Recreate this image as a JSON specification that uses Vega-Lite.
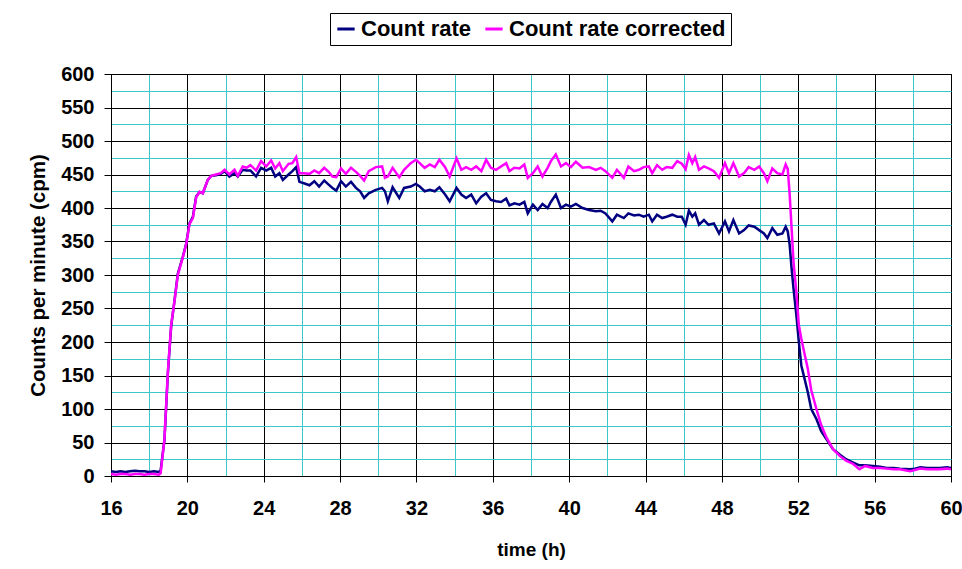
{
  "$schema": "https://vega.github.io/schema/vega-lite/v6.json",
  "autosize": {"type": "none"},
  "width": 840,
  "height": 402,
  "padding": {"left": 111, "top": 74, "right": 11, "bottom": 93},
  "background": "white",
  "config": {"view": {"stroke": "black", "strokeWidth": 1}, "font": "Liberation Sans"},
  "data": {"values": [
    {"t":16.0,"Count rate":7,"Count rate corrected":3},
    {"t":16.25,"Count rate":6,"Count rate corrected":2},
    {"t":16.5,"Count rate":7,"Count rate corrected":3},
    {"t":16.75,"Count rate":6,"Count rate corrected":3},
    {"t":17.0,"Count rate":7,"Count rate corrected":2},
    {"t":17.25,"Count rate":8,"Count rate corrected":3},
    {"t":17.5,"Count rate":7,"Count rate corrected":3},
    {"t":17.75,"Count rate":7,"Count rate corrected":2},
    {"t":18.0,"Count rate":6,"Count rate corrected":3},
    {"t":18.25,"Count rate":7,"Count rate corrected":3},
    {"t":18.5,"Count rate":6,"Count rate corrected":2},
    {"t":18.6,"Count rate":8,"Count rate corrected":4},
    {"t":18.8,"Count rate":54,"Count rate corrected":55},
    {"t":18.98,"Count rate":154,"Count rate corrected":156},
    {"t":19.15,"Count rate":223,"Count rate corrected":225},
    {"t":19.33,"Count rate":263,"Count rate corrected":262},
    {"t":19.5,"Count rate":302,"Count rate corrected":300},
    {"t":19.76,"Count rate":327,"Count rate corrected":326},
    {"t":19.94,"Count rate":347,"Count rate corrected":346},
    {"t":20.11,"Count rate":377,"Count rate corrected":376},
    {"t":20.29,"Count rate":387,"Count rate corrected":385},
    {"t":20.46,"Count rate":417,"Count rate corrected":416},
    {"t":20.64,"Count rate":424,"Count rate corrected":424},
    {"t":20.81,"Count rate":422,"Count rate corrected":422},
    {"t":21.07,"Count rate":442,"Count rate corrected":442},
    {"t":21.25,"Count rate":448,"Count rate corrected":448},
    {"t":21.5,"Count rate":449,"Count rate corrected":450},
    {"t":21.75,"Count rate":451,"Count rate corrected":452},
    {"t":21.95,"Count rate":455,"Count rate corrected":457},
    {"t":22.2,"Count rate":447,"Count rate corrected":450},
    {"t":22.47,"Count rate":452,"Count rate corrected":457},
    {"t":22.64,"Count rate":447,"Count rate corrected":448},
    {"t":22.9,"Count rate":457,"Count rate corrected":462},
    {"t":23.1,"Count rate":456,"Count rate corrected":460},
    {"t":23.3,"Count rate":456,"Count rate corrected":464},
    {"t":23.6,"Count rate":447,"Count rate corrected":456},
    {"t":23.86,"Count rate":460,"Count rate corrected":470},
    {"t":24.13,"Count rate":456,"Count rate corrected":462},
    {"t":24.39,"Count rate":460,"Count rate corrected":471},
    {"t":24.6,"Count rate":447,"Count rate corrected":459},
    {"t":24.82,"Count rate":452,"Count rate corrected":467},
    {"t":25.0,"Count rate":442,"Count rate corrected":455},
    {"t":25.3,"Count rate":450,"Count rate corrected":466},
    {"t":25.5,"Count rate":455,"Count rate corrected":467},
    {"t":25.7,"Count rate":461,"Count rate corrected":476},
    {"t":25.87,"Count rate":439,"Count rate corrected":452},
    {"t":26.1,"Count rate":437,"Count rate corrected":452},
    {"t":26.4,"Count rate":434,"Count rate corrected":451},
    {"t":26.65,"Count rate":440,"Count rate corrected":456},
    {"t":26.9,"Count rate":432,"Count rate corrected":452},
    {"t":27.17,"Count rate":441,"Count rate corrected":460},
    {"t":27.4,"Count rate":435,"Count rate corrected":454},
    {"t":27.6,"Count rate":430,"Count rate corrected":447},
    {"t":27.8,"Count rate":426,"Count rate corrected":446},
    {"t":28.05,"Count rate":440,"Count rate corrected":459},
    {"t":28.3,"Count rate":432,"Count rate corrected":451},
    {"t":28.57,"Count rate":439,"Count rate corrected":460},
    {"t":28.83,"Count rate":430,"Count rate corrected":454},
    {"t":29.05,"Count rate":425,"Count rate corrected":448},
    {"t":29.26,"Count rate":415,"Count rate corrected":441},
    {"t":29.5,"Count rate":422,"Count rate corrected":455},
    {"t":29.87,"Count rate":427,"Count rate corrected":461},
    {"t":30.2,"Count rate":430,"Count rate corrected":462},
    {"t":30.35,"Count rate":425,"Count rate corrected":445},
    {"t":30.5,"Count rate":410,"Count rate corrected":447},
    {"t":30.75,"Count rate":431,"Count rate corrected":460},
    {"t":31.1,"Count rate":415,"Count rate corrected":446},
    {"t":31.35,"Count rate":430,"Count rate corrected":457},
    {"t":31.7,"Count rate":432,"Count rate corrected":467},
    {"t":31.97,"Count rate":436,"Count rate corrected":472},
    {"t":32.17,"Count rate":432,"Count rate corrected":467},
    {"t":32.43,"Count rate":425,"Count rate corrected":460},
    {"t":32.7,"Count rate":427,"Count rate corrected":465},
    {"t":32.96,"Count rate":425,"Count rate corrected":461},
    {"t":33.2,"Count rate":431,"Count rate corrected":472},
    {"t":33.5,"Count rate":420,"Count rate corrected":461},
    {"t":33.74,"Count rate":410,"Count rate corrected":447},
    {"t":34.1,"Count rate":430,"Count rate corrected":474},
    {"t":34.35,"Count rate":420,"Count rate corrected":457},
    {"t":34.6,"Count rate":415,"Count rate corrected":461},
    {"t":34.87,"Count rate":420,"Count rate corrected":457},
    {"t":35.13,"Count rate":407,"Count rate corrected":462},
    {"t":35.4,"Count rate":417,"Count rate corrected":455},
    {"t":35.65,"Count rate":422,"Count rate corrected":472},
    {"t":35.9,"Count rate":412,"Count rate corrected":460},
    {"t":36.17,"Count rate":410,"Count rate corrected":457},
    {"t":36.43,"Count rate":409,"Count rate corrected":462},
    {"t":36.7,"Count rate":414,"Count rate corrected":467},
    {"t":36.87,"Count rate":404,"Count rate corrected":455},
    {"t":37.13,"Count rate":407,"Count rate corrected":460},
    {"t":37.4,"Count rate":405,"Count rate corrected":459},
    {"t":37.65,"Count rate":409,"Count rate corrected":465},
    {"t":37.83,"Count rate":392,"Count rate corrected":445},
    {"t":38.1,"Count rate":405,"Count rate corrected":452},
    {"t":38.35,"Count rate":397,"Count rate corrected":462},
    {"t":38.6,"Count rate":406,"Count rate corrected":447},
    {"t":38.87,"Count rate":400,"Count rate corrected":460},
    {"t":39.04,"Count rate":409,"Count rate corrected":470},
    {"t":39.3,"Count rate":420,"Count rate corrected":480},
    {"t":39.57,"Count rate":400,"Count rate corrected":462},
    {"t":39.83,"Count rate":405,"Count rate corrected":467},
    {"t":40.09,"Count rate":402,"Count rate corrected":461},
    {"t":40.35,"Count rate":406,"Count rate corrected":469},
    {"t":40.7,"Count rate":400,"Count rate corrected":460},
    {"t":41.04,"Count rate":397,"Count rate corrected":461},
    {"t":41.4,"Count rate":395,"Count rate corrected":457},
    {"t":41.65,"Count rate":396,"Count rate corrected":460},
    {"t":41.9,"Count rate":392,"Count rate corrected":455},
    {"t":42.26,"Count rate":380,"Count rate corrected":445},
    {"t":42.5,"Count rate":390,"Count rate corrected":457},
    {"t":42.86,"Count rate":385,"Count rate corrected":445},
    {"t":43.1,"Count rate":392,"Count rate corrected":462},
    {"t":43.4,"Count rate":389,"Count rate corrected":455},
    {"t":43.65,"Count rate":390,"Count rate corrected":457},
    {"t":43.9,"Count rate":387,"Count rate corrected":461},
    {"t":44.17,"Count rate":390,"Count rate corrected":462},
    {"t":44.35,"Count rate":380,"Count rate corrected":452},
    {"t":44.6,"Count rate":390,"Count rate corrected":464},
    {"t":44.87,"Count rate":385,"Count rate corrected":457},
    {"t":45.1,"Count rate":387,"Count rate corrected":461},
    {"t":45.4,"Count rate":390,"Count rate corrected":460},
    {"t":45.66,"Count rate":387,"Count rate corrected":470},
    {"t":45.9,"Count rate":387,"Count rate corrected":466},
    {"t":46.1,"Count rate":375,"Count rate corrected":458},
    {"t":46.27,"Count rate":396,"Count rate corrected":479},
    {"t":46.45,"Count rate":387,"Count rate corrected":467},
    {"t":46.6,"Count rate":392,"Count rate corrected":476},
    {"t":46.8,"Count rate":375,"Count rate corrected":457},
    {"t":47.06,"Count rate":382,"Count rate corrected":462},
    {"t":47.3,"Count rate":375,"Count rate corrected":459},
    {"t":47.58,"Count rate":377,"Count rate corrected":455},
    {"t":47.85,"Count rate":362,"Count rate corrected":445},
    {"t":48.16,"Count rate":380,"Count rate corrected":467},
    {"t":48.37,"Count rate":365,"Count rate corrected":452},
    {"t":48.6,"Count rate":382,"Count rate corrected":467},
    {"t":48.9,"Count rate":362,"Count rate corrected":447},
    {"t":49.16,"Count rate":367,"Count rate corrected":452},
    {"t":49.4,"Count rate":374,"Count rate corrected":461},
    {"t":49.7,"Count rate":372,"Count rate corrected":457},
    {"t":49.95,"Count rate":367,"Count rate corrected":462},
    {"t":50.2,"Count rate":362,"Count rate corrected":452},
    {"t":50.38,"Count rate":355,"Count rate corrected":440},
    {"t":50.64,"Count rate":370,"Count rate corrected":459},
    {"t":50.9,"Count rate":360,"Count rate corrected":452},
    {"t":51.17,"Count rate":362,"Count rate corrected":450},
    {"t":51.34,"Count rate":372,"Count rate corrected":465},
    {"t":51.45,"Count rate":365,"Count rate corrected":458},
    {"t":51.55,"Count rate":345,"Count rate corrected":420},
    {"t":51.65,"Count rate":310,"Count rate corrected":370},
    {"t":51.75,"Count rate":280,"Count rate corrected":320},
    {"t":51.9,"Count rate":240,"Count rate corrected":275},
    {"t":52.03,"Count rate":200,"Count rate corrected":225},
    {"t":52.16,"Count rate":165,"Count rate corrected":205},
    {"t":52.33,"Count rate":145,"Count rate corrected":182},
    {"t":52.5,"Count rate":125,"Count rate corrected":160},
    {"t":52.68,"Count rate":100,"Count rate corrected":128},
    {"t":52.95,"Count rate":85,"Count rate corrected":100},
    {"t":53.2,"Count rate":67,"Count rate corrected":76},
    {"t":53.47,"Count rate":55,"Count rate corrected":58},
    {"t":53.82,"Count rate":40,"Count rate corrected":40},
    {"t":54.17,"Count rate":32,"Count rate corrected":30},
    {"t":54.5,"Count rate":25,"Count rate corrected":23},
    {"t":54.88,"Count rate":20,"Count rate corrected":18},
    {"t":55.2,"Count rate":16,"Count rate corrected":10},
    {"t":55.5,"Count rate":16,"Count rate corrected":15},
    {"t":55.9,"Count rate":15,"Count rate corrected":12},
    {"t":56.28,"Count rate":14,"Count rate corrected":12},
    {"t":56.63,"Count rate":12,"Count rate corrected":11},
    {"t":57.0,"Count rate":12,"Count rate corrected":10},
    {"t":57.33,"Count rate":11,"Count rate corrected":10},
    {"t":57.86,"Count rate":10,"Count rate corrected":7},
    {"t":58.1,"Count rate":11,"Count rate corrected":9},
    {"t":58.4,"Count rate":13,"Count rate corrected":11},
    {"t":58.75,"Count rate":12,"Count rate corrected":10},
    {"t":59.1,"Count rate":12,"Count rate corrected":10},
    {"t":59.4,"Count rate":12,"Count rate corrected":10},
    {"t":59.8,"Count rate":13,"Count rate corrected":11},
    {"t":60.0,"Count rate":12,"Count rate corrected":10}
  ]},
  "transform": [{"fold": ["Count rate", "Count rate corrected"], "as": ["series", "value"]}],
  "mark": {"type": "line", "strokeWidth": 2.5, "clip": true},
  "encoding": {
    "x": {
      "field": "t", "type": "quantitative",
      "scale": {"domain": [16, 60], "nice": false, "zero": false},
      "axis": {
        "title": "time (h)",
        "values": [16,18,20,22,24,26,28,30,32,34,36,38,40,42,44,46,48,50,52,54,56,58,60],
        "labelExpr": "datum.value % 4 === 0 ? datum.label : ''",
        "grid": true,
        "gridColor": {"condition": {"test": "datum.value % 4 === 0", "value": "#000000"}, "value": "#3cc8c8"},
        "gridOpacity": 1,
        "gridWidth": 1,
        "tickOpacity": {"condition": {"test": "datum.value % 4 === 0", "value": 1}, "value": 0},
        "tickColor": "black",
        "tickSize": 6,
        "domainColor": "black",
        "labelFontSize": 20,
        "labelFontWeight": "bold",
        "labelColor": "black",
        "labelPadding": 16,
        "labelFlush": false,
        "labelOverlap": false,
        "titleFontSize": 19,
        "titleFontWeight": "bold",
        "titleColor": "black",
        "titlePadding": 22
      }
    },
    "y": {
      "field": "value", "type": "quantitative",
      "scale": {"domain": [0, 600], "nice": false},
      "axis": {
        "title": "Counts per minute (cpm)",
        "values": [0,25,50,75,100,125,150,175,200,225,250,275,300,325,350,375,400,425,450,475,500,525,550,575,600],
        "labelExpr": "datum.value % 50 === 0 ? datum.label : ''",
        "grid": true,
        "gridColor": {"condition": {"test": "datum.value % 50 === 0", "value": "#000000"}, "value": "#3cc8c8"},
        "gridOpacity": 1,
        "gridWidth": 1,
        "tickOpacity": {"condition": {"test": "datum.value % 50 === 0", "value": 1}, "value": 0},
        "tickColor": "black",
        "tickSize": 7,
        "domainColor": "black",
        "labelFontSize": 20,
        "labelFontWeight": "bold",
        "labelColor": "black",
        "labelPadding": 10,
        "labelFlush": false,
        "labelOverlap": false,
        "titleFontSize": 20.5,
        "titleFontWeight": "bold",
        "titleColor": "black",
        "titlePadding": 12
      }
    },
    "color": {
      "field": "series", "type": "nominal",
      "scale": {"domain": ["Count rate", "Count rate corrected"], "range": ["#000080", "#ff00ff"]},
      "legend": {
        "title": null,
        "orient": "none",
        "legendX": 219,
        "legendY": -61,
        "direction": "horizontal",
        "strokeColor": "black",
        "fillColor": "white",
        "padding": 5,
        "symbolType": "stroke",
        "symbolStrokeWidth": 3,
        "symbolSize": 300,
        "labelFontSize": 22,
        "labelFontWeight": "bold",
        "labelColor": "black",
        "labelLimit": 400,
        "columnPadding": 8
      }
    }
  }
}
